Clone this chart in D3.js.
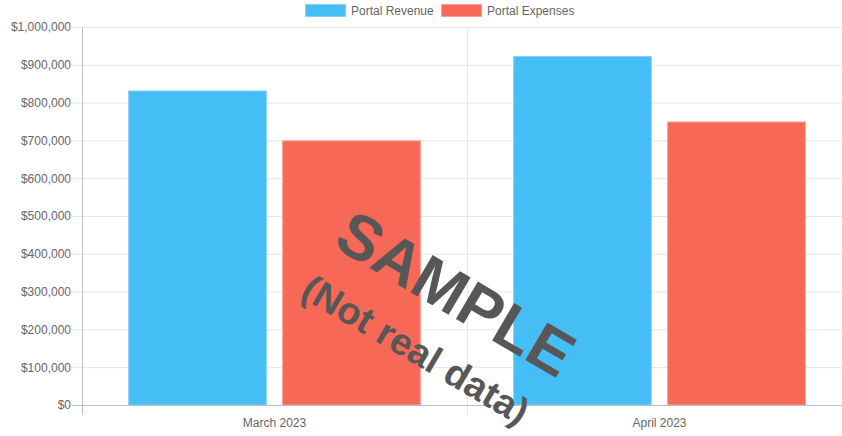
<!DOCTYPE html>
<html>
<head>
<meta charset="utf-8">
<script src="https://cdn.jsdelivr.net/npm/d3@7/dist/d3.min.js"></script>
<style>
  body { margin: 0; background: #fff; }
  svg { display: block; font-family: "Helvetica Neue", Helvetica, Arial, "Liberation Sans", sans-serif; }
</style>
</head>
<body>
<div id="chart"></div>
<script>
// Data
const months = ["March 2023", "April 2023"];
const seriesNames = ["Portal Revenue", "Portal Expenses"];
const revenue = [832000, 923000];
const expenses = [700000, 750000];
const yTicks = [0, 100000, 200000, 300000, 400000, 500000, 600000, 700000, 800000, 900000, 1000000];

const colors = ["#45bdf5", "#f76956"];
const borders = ["#7fd2f8", "#f99a8c"];

// SVG area
const svgWidth = 842;
const svgHeight = 436;

// plot area (the original canvas is wider than the window, right side is cut off)
const plot = { left: 82, right: 852, top: 27, bottom: 405 };

const svg = d3.select("#chart")
  .append("svg")
  .attr("width", svgWidth)
  .attr("height", svgHeight);

// Scales
const x0 = d3.scaleBand()
  .domain(months)
  .range([plot.left, plot.right])
  .padding(0);

const catW = x0.bandwidth();
const x1 = d3.scaleBand()
  .domain(seriesNames)
  .range([catW * 0.1, catW * 0.9])
  .paddingInner(0.1)
  .paddingOuter(0.05);

const y = d3.scaleLinear()
  .domain([0, 1000000])
  .range([plot.bottom, plot.top]);

// Horizontal gridlines
svg.append("g")
  .selectAll("line")
  .data(yTicks)
  .enter()
  .append("line")
  .attr("x1", plot.left - 10)
  .attr("x2", svgWidth)
  .attr("y1", d => y(d) + 0.5)
  .attr("y2", d => y(d) + 0.5)
  .attr("stroke", d => d === 0 ? "#bfbfbf" : "#e6e6e6")
  .attr("stroke-width", 1);

// Vertical gridlines at category edges
const vLines = months.map(m => x0(m)).concat([plot.right]);
svg.append("g")
  .selectAll("line")
  .data(vLines)
  .enter()
  .append("line")
  .attr("x1", d => Math.round(d) + 0.5)
  .attr("x2", d => Math.round(d) + 0.5)
  .attr("y1", plot.top)
  .attr("y2", plot.bottom + 10)
  .attr("stroke", (d, i) => i === 0 ? "#bfbfbf" : "#e6e6e6")
  .attr("stroke-width", 1);

// Y axis labels
const yAxis = d3.axisLeft(y)
  .tickValues(yTicks)
  .tickSize(0)
  .tickPadding(11)
  .tickFormat(d => "$" + d3.format(",")(d));

const yAxisG = svg.append("g")
  .attr("transform", `translate(${plot.left}, 0)`)
  .call(yAxis);
yAxisG.select(".domain").remove();
yAxisG.selectAll("text")
  .attr("fill", "#666")
  .style("font-size", "12px")
  .style("font-family", "\"Helvetica Neue\", Helvetica, Arial, \"Liberation Sans\", sans-serif");

// X axis labels
const xAxis = d3.axisBottom(x0).tickSize(0).tickPadding(13);
const xAxisG = svg.append("g")
  .attr("transform", `translate(0, ${plot.bottom})`)
  .call(xAxis);
xAxisG.select(".domain").remove();
xAxisG.selectAll("text")
  .attr("fill", "#666")
  .style("font-size", "12px")
  .style("font-family", "\"Helvetica Neue\", Helvetica, Arial, \"Liberation Sans\", sans-serif");

// Bars
const rows = months.map((m, i) => ({ month: m, values: [revenue[i], expenses[i]] }));

const groups = svg.append("g")
  .selectAll("g")
  .data(rows)
  .enter()
  .append("g")
  .attr("transform", d => `translate(${x0(d.month)}, 0)`);

groups.selectAll("rect")
  .data(d => d.values.map((v, j) => ({ name: seriesNames[j], value: v, idx: j })))
  .enter()
  .append("rect")
  .attr("x", d => x1(d.name) + 0.5)
  .attr("y", d => y(d.value) + 0.5)
  .attr("width", x1.bandwidth() - 1)
  .attr("height", d => y(0) - y(d.value) - 0.5)
  .attr("fill", d => colors[d.idx])
  .attr("stroke", d => borders[d.idx])
  .attr("stroke-width", 1);

// redraw zero line over the bars
svg.append("line")
  .attr("x1", plot.left)
  .attr("x2", svgWidth)
  .attr("y1", y(0) + 0.5)
  .attr("y2", y(0) + 0.5)
  .attr("stroke", "#bfbfbf");

// Legend
const legend = svg.append("g").attr("transform", "translate(305, 4)");
const legendX = [0, 136];
seriesNames.forEach((name, i) => {
  const g = legend.append("g").attr("transform", `translate(${legendX[i]}, 0)`);
  g.append("rect")
    .attr("x", 0.5)
    .attr("y", 0.5)
    .attr("width", 40)
    .attr("height", 12)
    .attr("fill", colors[i])
    .attr("stroke", borders[i]);
  g.append("text")
    .attr("x", 46)
    .attr("y", 11)
    .attr("fill", "#666")
    .style("font-size", "12px")
    .text(name);
});

// Watermark
const wm = svg.append("g")
  .attr("transform", "translate(438, 320) rotate(30.5)");
wm.append("text")
  .attr("text-anchor", "middle")
  .attr("x", 2)
  .attr("y", -10)
  .attr("fill", "#575757")
  .style("font-size", "63px")
  .style("font-weight", "bold")
  .text("SAMPLE");
wm.append("text")
  .attr("text-anchor", "middle")
  .attr("x", -4)
  .attr("y", 50)
  .attr("fill", "#575757")
  .style("font-size", "38px")
  .style("font-weight", "bold")
  .text("(Not real data)");
</script>
</body>
</html>
